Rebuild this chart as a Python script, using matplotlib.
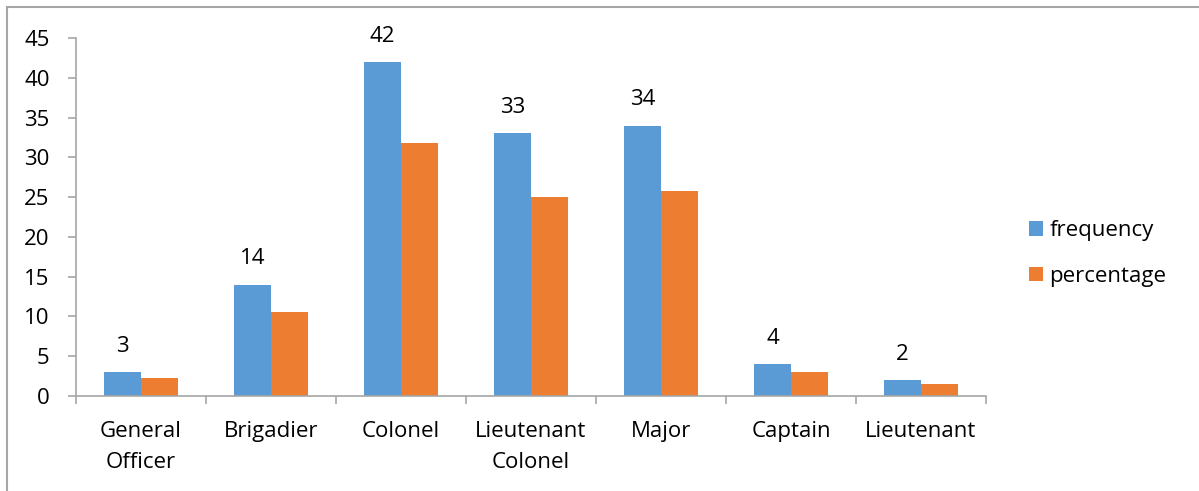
"""
Respondents by military rank: frequency and percentage.
"""

import matplotlib.pyplot as plt
from matplotlib.patches import Rectangle
import numpy as np

plt.rcParams['font.family'] = ['Open Sans', 'DejaVu Sans']

# Data
ranks = ['General\nOfficer', 'Brigadier', 'Colonel', 'Lieutenant\nColonel',
         'Major', 'Captain', 'Lieutenant']
frequency = [3, 14, 42, 33, 34, 4, 2]
percentage = [2.27, 10.61, 31.82, 25.0, 25.76, 3.03, 1.52]

BLUE = '#5B9BD5'
ORANGE = '#ED7D31'
GRID_GREY = '#a6a6a6'
FS = 16

fig = plt.figure(figsize=(11.99, 4.91), dpi=100)
ax = fig.add_axes([0.0634, 0.1935, 0.8224 - 0.0634, 0.9226 - 0.1935])

x = np.arange(len(ranks))
width = 0.285

bars_freq = ax.bar(x - width / 2, frequency, width, color=BLUE, label='frequency')
ax.bar(x + width / 2, percentage, width, color=ORANGE, label='percentage')

# Only the frequency bars carry value labels
ax.bar_label(bars_freq, labels=[str(v) for v in frequency],
             padding=11, fontsize=FS)

# Axes formatting
ax.set_xlim(-0.5, len(ranks) - 0.5)
ax.set_ylim(0, 45)
ax.set_yticks(range(0, 46, 5))
ax.set_xticks(x)
ax.set_xticklabels(ranks, fontsize=FS, linespacing=1.62)
ax.set_xticks(np.arange(-0.5, len(ranks)), minor=True)

for side in ['top', 'right']:
    ax.spines[side].set_visible(False)
for side in ['left', 'bottom']:
    ax.spines[side].set_color(GRID_GREY)
    ax.spines[side].set_linewidth(1.2)

ax.tick_params(axis='y', labelsize=FS, length=6, width=1.2, color=GRID_GREY, pad=13)
ax.tick_params(axis='x', which='major', length=0, pad=18)
ax.tick_params(axis='x', which='minor', length=6, width=1.2, color=GRID_GREY)

# Legend on the right
fig.legend(loc='center left', bbox_to_anchor=(1020 / 1199, 0.484),
           frameon=False, fontsize=FS, handlelength=0.62, handleheight=0.62,
           handletextpad=0.3, labelspacing=1.1, borderaxespad=0)

# Chart frame
fig.add_artist(Rectangle((7 / 1199, -0.1), 1.2, 1 - 7 / 491 + 0.1,
                         transform=fig.transFigure, fill=False,
                         edgecolor=GRID_GREY, linewidth=1.5))

plt.savefig('out.png', dpi=100)
plt.close()
